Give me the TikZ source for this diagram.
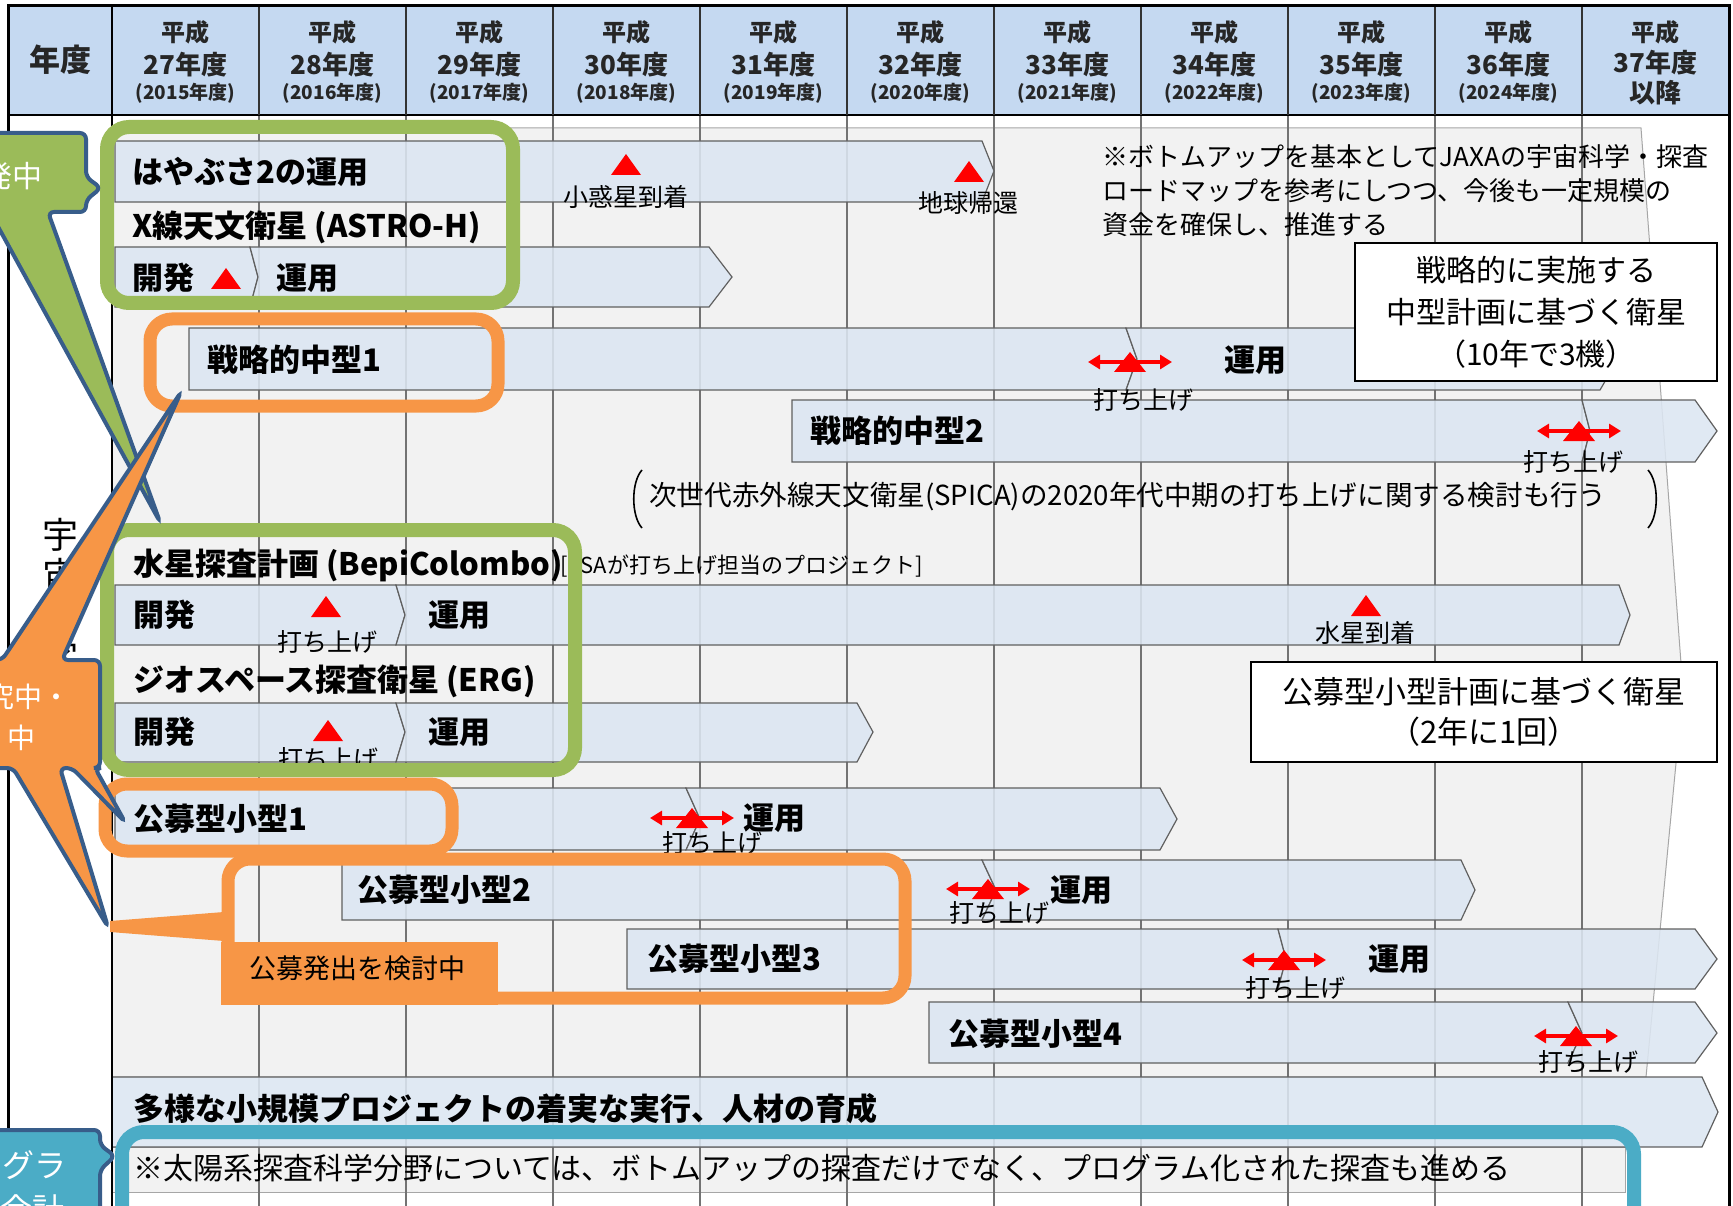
\documentclass[tikz,border=0pt]{standalone}
\usepackage{fontspec}
\setmainfont{Noto Sans CJK JP}
\usetikzlibrary{arrows.meta}
\definecolor{hdrc}{RGB}{197,217,241}
\definecolor{barf}{RGB}{220,230,242}
\definecolor{palec}{RGB}{242,242,242}
\definecolor{grnc}{RGB}{155,187,89}
\definecolor{orgc}{RGB}{247,150,70}
\definecolor{tealc}{RGB}{75,172,198}
\definecolor{cbord}{RGB}{56,93,138}
\definecolor{gridc}{RGB}{115,115,115}
\newcommand\fsz[1]{\fontsize{#1}{#1}\selectfont}
\newcommand\arrbar[7]{\path[barst] (#1,#5) -- (#3,#5) -- (#4,#7) -- (#3,#6) -- (#1,#6) -- (#2,#7) -- cycle;}
\newcommand\launchmk[2]{%
  \draw[redarr] ({#1-42},#2) -- ({#1+42},#2);
  \fill[red] ({#1-16},{#2+10}) -- ({#1+16},{#2+10}) -- (#1,{#2-10}) -- cycle;}
\newcommand\redtri[2]{\fill[red] ({#1-15},{#2+10}) -- ({#1+15},{#2+10}) -- (#1,{#2-11}) -- cycle;}
\begin{document}
\begin{tikzpicture}[x=1pt,y=-1pt,
  barst/.style={fill=barf, fill opacity=0.88, draw=gray!75!black, line width=1.2pt},
  redarr/.style={red, line width=3.5pt, arrows={Triangle[length=12pt,width=14pt]-Triangle[length=12pt,width=14pt]}},
  hdA/.style={font=\fsz{24}\bfseries, inner sep=0pt, text=black!85},
  hdB/.style={font=\fsz{26}\bfseries, inner sep=0pt, text=black!85},
  hdC/.style={font=\fsz{19}\bfseries, inner sep=0pt, text=black!85},
  lbl/.style={anchor=west, font=\fsz{31}\bfseries, inner sep=0pt},
  note/.style={anchor=west, font=\fsz{26}, inner sep=0pt},
  mk/.style={font=\fsz{25}, inner sep=0pt},
  gbox/.style={draw=grnc, line width=14pt, rounded corners=22pt},
  obox/.style={draw=orgc, line width=13pt, rounded corners=22pt},
  wbox/.style={draw=black, fill=white, line width=2pt, align=center, inner sep=0pt},
  calltxt/.style={font=\fsz{30}, text=white, inner sep=0pt},
  callout/.style={draw=cbord, line width=4pt, rounded corners=6pt}]
\useasboundingbox (0,0) rectangle (1733,1206);
\fill[white] (0,0) rectangle (1733,1206);
% header
\fill[hdrc] (8,6) rectangle (1729,115);
% pale background arrow
\path[fill=palec, draw=gray!70, line width=1pt] (112,128) -- (1641,128) -- (1683,690) -- (1646,1077) -- (112,1077) -- cycle;
\path[fill=palec, draw=gray!70, line width=1pt] (112,1147) rectangle (1625,1192);
% grid
\foreach \k in {1,...,10} \draw[gridc, line width=1.3pt] ({112+147*\k},115) -- ({112+147*\k},1206);
% bars
\arrbar{115}{115}{982}{994}{141}{202}{171}
\arrbar{115}{115}{250}{258}{247}{307}{277}
\arrbar{250}{258}{709}{732}{247}{307}{277}
\arrbar{189}{189}{1126}{1137}{328}{390}{359}
\arrbar{1126}{1137}{1600}{1618}{328}{390}{359}
\arrbar{792}{792}{1582}{1590}{400}{462}{431}
\arrbar{1582}{1590}{1695}{1717}{400}{462}{431}
\arrbar{115}{115}{396}{405}{585}{645}{615}
\arrbar{396}{405}{1619}{1630}{585}{645}{615}
\arrbar{115}{115}{396}{405}{703}{762}{732}
\arrbar{396}{405}{857}{873}{703}{762}{732}
\arrbar{115}{115}{686}{700}{788}{850}{819}
\arrbar{686}{700}{1160}{1177}{788}{850}{819}
\arrbar{342}{342}{982}{996}{860}{920}{890}
\arrbar{982}{996}{1461}{1475}{860}{920}{890}
\arrbar{627}{627}{1278}{1286}{929}{989}{959}
\arrbar{1278}{1286}{1695}{1717}{929}{989}{959}
\arrbar{929}{929}{1568}{1582}{1002}{1063}{1033}
\arrbar{1568}{1582}{1695}{1717}{1002}{1063}{1033}
\arrbar{112}{112}{1702}{1718}{1077}{1147}{1112}
% red markers
\redtri{626}{165}
\redtri{969}{172}
\redtri{226}{279}
\redtri{326}{607}
\redtri{328}{731}
\redtri{1366}{606}
\launchmk{1130}{362}
\launchmk{1579}{431}
\launchmk{692}{818}
\launchmk{988}{889}
\launchmk{1284}{960}
\launchmk{1576}{1036}
% header texts
\node[font=\fsz{31}\bfseries, inner sep=0pt, text=black!85] (nendo) at (60,60) {年度};
\foreach \i [evaluate=\i as \yr using int(27+\i), evaluate=\i as \ad using int(2015+\i)] in {0,...,9}{
  \node[hdA] (hA\i) at ({185.5+147*\i},32) {平成};
  \node[hdB] (hB\i) at ({185.5+147*\i},65) {{\yr}年度};
  \node[hdC] (hC\i) at ({185.5+147*\i},93) {({\ad}年度)};
}
\node[hdA] (hA10) at (1655.5,32) {平成};
\node[hdB] (hB10) at (1655.5,63) {37年度};
\node[hdB] (hC10) at (1655.5,93) {以降};
% body texts
\node[lbl] (hay) at (132,172) {はやぶさ2の運用};
\node[mk] (m1) at (626,197) {小惑星到着};
\node[mk] (m2) at (968,203) {地球帰還};
\node[note] (bu1) at (1102,157) {※ボトムアップを基本としてJAXAの宇宙科学・探査};
\node[note] (bu2) at (1102,191) {ロードマップを参考にしつつ、今後も一定規模の};
\node[note] (bu3) at (1102,225) {資金を確保し、推進する};
\node[lbl] (astro) at (132,227) {X線天文衛星 (ASTRO-H)};
\node[lbl] (ad1) at (132,278) {開発};
\node[lbl] (au1) at (276,278) {運用};
\node[lbl] (s1) at (207,360) {戦略的中型1};
\node[lbl] (s1u) at (1224,360) {運用};
\node[mk] (l1) at (1143,400) {打ち上げ};
\node[lbl] (s2) at (810,431) {戦略的中型2};
\node[mk] (l2) at (1573,462) {打ち上げ};
\node[anchor=west, font=\fsz{27.6}, inner sep=0pt] (spica) at (649,497) {次世代赤外線天文衛星(SPICA)の2020年代中期の打ち上げに関する検討も行う};
\draw[line width=1.6pt] (642,470) .. controls (631,482) and (631,516) .. (642,528);
\draw[line width=1.6pt] (1648,470) .. controls (1659,482) and (1659,516) .. (1648,528);
\node[lbl] (bepi) at (133,565) {水星探査計画 (BepiColombo)};
\node[anchor=west, font=\fsz{22}, inner sep=0pt] (esa) at (560,566) {[ESAが打ち上げ担当のプロジェクト]};
\node[lbl] (bd) at (133,615) {開発};
\node[lbl] (bu) at (428,615) {運用};
\node[mk] (l3) at (327,642) {打ち上げ};
\node[mk] (m3) at (1365,633) {水星到着};
\node[lbl] (erg) at (133,681) {ジオスペース探査衛星 (ERG)};
\node[lbl] (ed) at (133,732) {開発};
\node[lbl] (eu) at (428,732) {運用};
\node[mk] (l4) at (328,759) {打ち上げ};
\node[lbl] (k1) at (133,819) {公募型小型1};
\node[lbl] (k1u) at (743,818) {運用};
\node[mk] (l5) at (712,843) {打ち上げ};
\node[lbl] (k2) at (357,890) {公募型小型2};
\node[lbl] (k2u) at (1050,890) {運用};
\node[mk] (l6) at (999,913) {打ち上げ};
\node[lbl] (k3) at (647,959) {公募型小型3};
\node[lbl] (k3u) at (1368,959) {運用};
\node[mk] (l7) at (1295,988) {打ち上げ};
\node[lbl] (k4) at (948,1034) {公募型小型4};
\node[mk] (l8) at (1588,1062) {打ち上げ};
\node[lbl] (tayo) at (133,1109) {多様な小規模プロジェクトの着実な実行、人材の育成};
\node[anchor=west, font=\fsz{30}, inner sep=0pt] (solar) at (133,1168) {※太陽系探査科学分野については、ボトムアップの探査だけでなく、プログラム化された探査も進める};
% frame
\draw[black, line width=1.8pt] (8,115) -- (1729,115);
\foreach \k in {1,...,10} \draw[black!80, line width=1.5pt] ({112+147*\k},6) -- ({112+147*\k},115);
\draw[black, line width=2.2pt] (112,6) -- (112,1206);
\draw[black, line width=3pt] (8,1210) -- (8,6) -- (1729,6) -- (1729,1210);
% white boxes
\node[wbox, minimum width=362pt, minimum height=138pt, font=\fontsize{30}{42}\selectfont] (sbox) at (1536,312) {戦略的に実施する\\中型計画に基づく衛星\\（10年で3機）};
\node[wbox, minimum width=466pt, minimum height=100pt, font=\fontsize{31}{40}\selectfont] (kbox) at (1484,712) {公募型小型計画に基づく衛星\\（2年に1回）};
% coloured frames
\draw[gbox] (107,127) rectangle (513,303);
\draw[obox] (150,319) rectangle (498,406);
\draw[gbox] (107,530) rectangle (575,770);
\draw[obox] (105,784) rectangle (452,851);
\draw[obox] (228,859) rectangle (905,998);
\fill[orgc] (221,942) rectangle (498,1005);
\node[anchor=west, font=\fsz{27}, inner sep=0pt] (kento) at (249,968) {公募発出を検討中};
\fill[orgc] (110,921) -- (224,912) -- (224,941) -- (110,932) -- cycle;
\draw[draw=tealc, line width=14pt, rounded corners=22pt] (122,1132) -- (1634,1132) -- (1634,1260) -- (122,1260) -- cycle;
% vertical label
\node[font=\fsz{36}, inner sep=0pt] (v1) at (60,535) {宇};
\node[font=\fsz{36}, inner sep=0pt] (v2) at (60,575) {宙};
\node[font=\fsz{36}, inner sep=0pt] (v3) at (60,615) {科};
\node[font=\fsz{36}, inner sep=0pt] (v4) at (60,655) {学};
% callouts
\path[callout, fill=grnc] (-40,133) -- (86,133) -- (86,177) -- (101,188) -- (86,200) -- (86,212) -- (48,212) -- (160,522) -- (-10,212) -- (-40,212) -- cycle;
\node[calltxt, anchor=east] (c1) at (43,176) {発中};
\path[callout, fill=orgc] (-40,660) -- (2,660) -- (181,392) -- (62,660) -- (100,660) -- (100,768) -- (95,768) -- (125,822) -- (72,768) -- (60,768) -- (108,927) -- (13,768) -- (-40,768) -- cycle;
\node[font=\fsz{28}, text=white, inner sep=0pt, anchor=east] (c2a) at (71,697) {究中・};
\node[font=\fsz{28}, text=white, inner sep=0pt, anchor=west] (c2b) at (7,738) {中};
\path[callout, fill=tealc] (-40,1130) -- (100,1130) -- (100,1145) -- (115,1156) -- (100,1170) -- (100,1260) -- (-40,1260) -- cycle;
\node[font=\fsz{32}, text=white, inner sep=0pt, anchor=west] (c3a) at (2,1165) {グラ};
\node[font=\fsz{32}, text=white, inner sep=0pt, anchor=west] (c3b) at (0,1209) {会計};
\end{tikzpicture}
\end{document}
